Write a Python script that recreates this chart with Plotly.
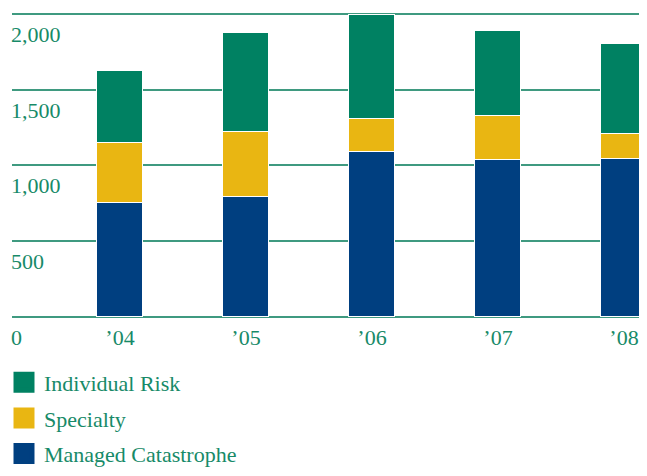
import plotly.graph_objects as go

years = ["’04", "’05", "’06", "’07", "’08"]
managed_cat = [751, 793, 1088, 1035, 1044]
specialty = [394, 429, 218, 291, 163]
individual_risk = [478, 652, 689, 561, 594]

y_tickvals = [0, 500, 1000, 1500, 2000]
y_ticktext = ["0", "500", "1,000", "1,500", "2,000"]

GREEN = "#008162"
YELLOW = "#E9B612"
BLUE = "#003F80"
TEXT = "#178a68"
GRID = "#3f9a80"
FONT = "Liberation Serif"

Y_MIN, Y_MAX = -300, 2026.4

xpos = list(range(len(years)))

fig = go.Figure()
series = [
    ("Managed Catastrophe", managed_cat, BLUE),
    ("Specialty", specialty, YELLOW),
    ("Individual Risk", individual_risk, GREEN),
]
for name, vals, col in series:
    fig.add_trace(go.Bar(
        x=xpos, y=vals, name=name, width=0.365,
        marker=dict(color=col, line=dict(color="white", width=1)),
        showlegend=False,
    ))

# legend entries (top to bottom)
for i, (name, vals, col) in enumerate(reversed(series)):
    fig.add_trace(go.Scatter(
        x=[None], y=[None], mode="markers", name=name,
        legendgroup=f"g{i}",
        marker=dict(symbol="square", size=16, color=col,
                    line=dict(color=col, width=5)),
    ))

fig.update_layout(
    width=639, height=460,
    margin=dict(l=4, r=0, t=2, b=106, autoexpand=False),
    barmode="stack",
    plot_bgcolor="white", paper_bgcolor="white",
    font=dict(family=FONT, size=22, color=TEXT),
    bargap=0,
    legend=dict(
        x=-4 / 635, y=0.0014, xanchor="left", yanchor="top",
        orientation="v", traceorder="grouped", tracegroupgap=4,
        indentation=-4,
        font=dict(family=FONT, size=22, color=TEXT),
        bgcolor="rgba(0,0,0,0)",
    ),
)
fig.update_xaxes(
    range=[-0.857, 4.1825], tickvals=xpos, ticktext=years,
    showgrid=False, zeroline=False, showline=False, ticks="",
    anchor="free", position=(0 - Y_MIN) / (Y_MAX - Y_MIN),
    ticklabelstandoff=5, ticklabeloverflow="allow", automargin=False,
    tickfont=dict(family=FONT, size=22, color=TEXT),
)
fig.update_yaxes(
    range=[Y_MIN, Y_MAX], tickvals=y_tickvals, ticktext=y_ticktext,
    showgrid=True, gridcolor=GRID, gridwidth=1.5,
    zeroline=False, showline=False, ticks="",
    ticklabelposition="inside bottom", automargin=False,
    ticklabelshift=5, ticklabelstandoff=-4,
    tickfont=dict(family=FONT, size=22, color=TEXT),
)
fig.write_html("out.html")
